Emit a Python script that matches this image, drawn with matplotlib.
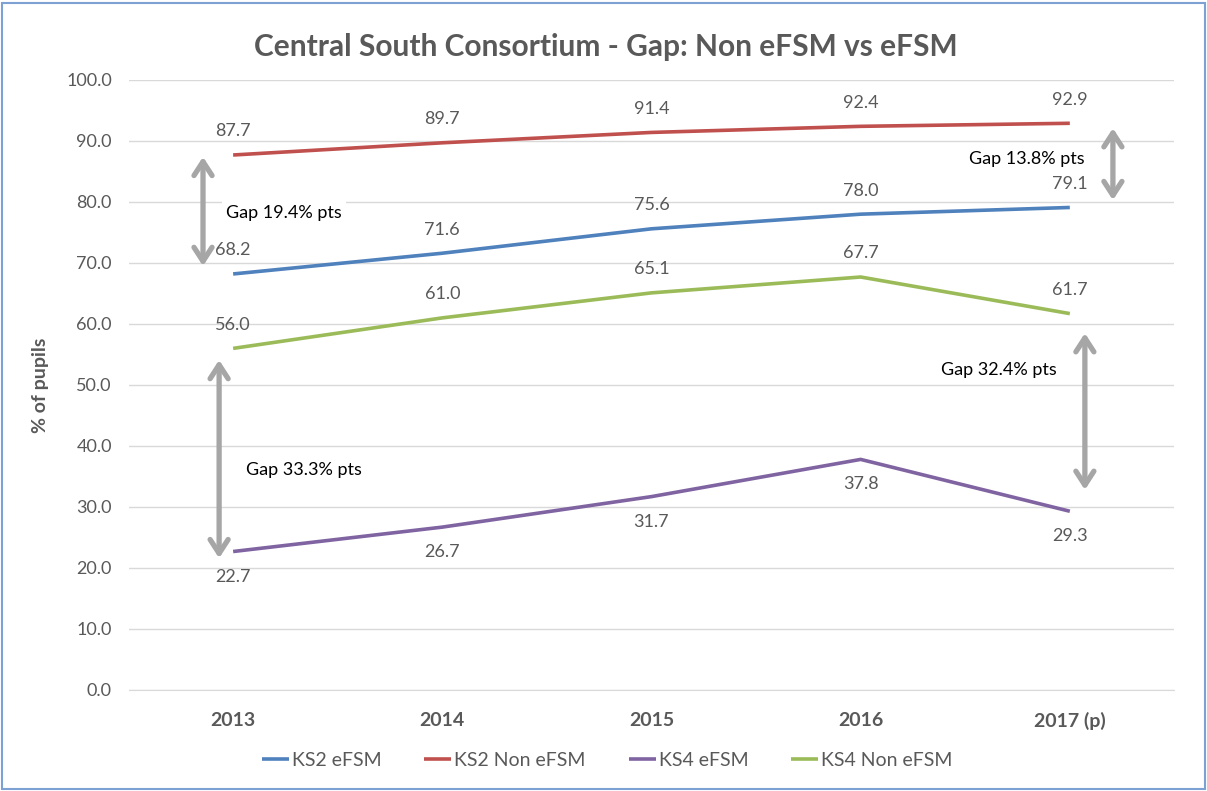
import matplotlib.pyplot as plt
from matplotlib.patches import Rectangle

# Data
years = ["2013", "2014", "2015", "2016", "2017 (p)"]
ks2_efsm = [68.2, 71.6, 75.6, 78.0, 79.1]
ks2_non_efsm = [87.7, 89.7, 91.4, 92.4, 92.9]
ks4_efsm = [22.7, 26.7, 31.7, 37.8, 29.3]
ks4_non_efsm = [56.0, 61.0, 65.1, 67.7, 61.7]
gap_labels = ["Gap 19.4% pts", "Gap 13.8% pts", "Gap 33.3% pts", "Gap 32.4% pts"]

plt.rcParams['font.family'] = ['Lato', 'DejaVu Sans']
grey_text = '#595959'

fig = plt.figure(figsize=(12.07, 7.91), dpi=100)
ax = fig.add_axes([0.1065, 0.1277, 0.8665, 0.7712])

x = list(range(len(years)))
series = [
    ("KS2 eFSM", ks2_efsm, '#4F81BD', 'above'),
    ("KS2 Non eFSM", ks2_non_efsm, '#C0504D', 'above'),
    ("KS4 eFSM", ks4_efsm, '#8064A2', 'below'),
    ("KS4 Non eFSM", ks4_non_efsm, '#9BBB59', 'above'),
]
for name, vals, col, pos in series:
    ax.plot(x, vals, color=col, lw=2.6, label=name, solid_capstyle='butt', zorder=3)
    dy = 17 if pos == 'above' else -18
    for xi, v in zip(x, vals):
        ax.annotate(f"{v:.1f}", (xi, v), xytext=(0, dy), textcoords='offset points',
                    ha='center', va='center', fontsize=13, color=grey_text, zorder=4)

# gap arrows
arrow_kw = dict(arrowstyle='<->,head_length=1.0,head_width=0.65', color='#A6A6A6', lw=3.8,
                shrinkA=0, shrinkB=0, capstyle='round', joinstyle='round')
ax.annotate('', xy=(-0.144, 87.4), xytext=(-0.144, 69.5), arrowprops=arrow_kw, zorder=5)
ax.annotate('', xy=(4.206, 92.1), xytext=(4.206, 80.3), arrowprops=arrow_kw, zorder=5)
ax.annotate('', xy=(-0.067, 54.1), xytext=(-0.067, 21.6), arrowprops=arrow_kw, zorder=5)
ax.annotate('', xy=(4.072, 58.5), xytext=(4.072, 32.8), arrowprops=arrow_kw, zorder=5)

box = dict(facecolor='white', edgecolor='none', pad=3)
gap_kw = dict(fontsize=13, color='black', va='center', bbox=box, zorder=2)
ax.text(-0.033, 78.2, gap_labels[0], ha='left', **gap_kw)
ax.text(4.072, 87.0, gap_labels[1], ha='right', **gap_kw)
ax.text(0.062, 36.1, gap_labels[2], ha='left', **gap_kw)
ax.text(3.938, 52.5, gap_labels[3], ha='right', **gap_kw)

ax.set_xlim(-0.5, 4.5)
ax.set_ylim(0, 100)
ax.set_yticks(range(0, 101, 10))
ax.set_yticklabels([f"{v:.1f}" for v in range(0, 101, 10)])
ax.set_xticks(x)
ax.set_xticklabels(years, fontweight='bold')
ax.tick_params(axis='both', length=0, colors=grey_text, labelsize=13)
ax.tick_params(axis='x', pad=16, labelsize=14)
ax.tick_params(axis='y', pad=12)
ax.grid(axis='y', color='#D9D9D9', lw=1)
ax.set_axisbelow(True)
for s in ax.spines.values():
    s.set_visible(False)
ax.spines['bottom'].set_visible(True)
ax.spines['bottom'].set_color('#D9D9D9')

ax.set_ylabel("% of pupils", fontsize=14, fontweight='bold', color=grey_text, labelpad=12)
fig.suptitle("Central South Consortium - Gap: Non eFSM vs eFSM", x=0.502, y=0.958,
             fontsize=21.5, fontweight='bold', color=grey_text)

leg = fig.legend(loc='center', bbox_to_anchor=(0.503, 0.039), ncol=4, frameon=False,
                 fontsize=14, handlelength=1.4, columnspacing=2.2, handletextpad=0.15)
for t in leg.get_texts():
    t.set_color(grey_text)

fig.patches.append(Rectangle((0.002, 0.002), 0.996, 0.994, transform=fig.transFigure,
                             fill=False, edgecolor='#7EA1D3', lw=1.5))

plt.savefig("out.png", dpi=100)
